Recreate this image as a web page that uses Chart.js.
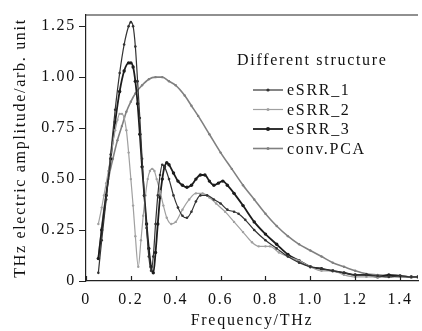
<!DOCTYPE html>
<html>
<head>
<meta charset="utf-8">
<script src="https://cdn.jsdelivr.net/npm/chart.js@4/dist/chart.umd.min.js"></script>
<style>
  html, body { margin: 0; padding: 0; background: #fff; }
  canvas { display: block; }
</style>
</head>
<body>
<canvas id="chart" width="422" height="331"></canvas>
<script>
// dati (THz, ampiezza arb.)
const seriesNames = ['eSRR_1', 'eSRR_2', 'eSRR_3', 'conv.PCA'];

const eSRR1X = [0.055,0.07,0.09,0.11,0.13,0.15,0.17,0.19,0.2,0.21,0.22,0.23,0.24,0.25,0.26,0.27,0.28,0.29,0.30,0.31,0.32,0.33,0.34,0.35,0.37,0.39,0.41,0.43,0.45,0.47,0.49,0.51,0.54,0.57,0.60,0.63,0.66,0.68,0.71,0.75,0.80,0.85,0.90,0.95,1.0,1.05,1.1,1.15,1.2,1.25,1.3,1.35,1.4,1.45,1.48];
const eSRR1Y = [0.04,0.2,0.4,0.62,0.84,1.02,1.16,1.25,1.27,1.25,1.15,0.98,0.8,0.6,0.42,0.26,0.12,0.05,0.12,0.28,0.42,0.52,0.57,0.56,0.5,0.42,0.36,0.32,0.31,0.34,0.39,0.42,0.42,0.40,0.38,0.35,0.34,0.33,0.30,0.25,0.20,0.16,0.12,0.09,0.07,0.06,0.05,0.04,0.03,0.03,0.025,0.02,0.025,0.02,0.02];

const eSRR2X = [0.055,0.07,0.08,0.09,0.1,0.11,0.12,0.13,0.14,0.15,0.16,0.17,0.18,0.19,0.2,0.21,0.22,0.233,0.245,0.255,0.265,0.275,0.285,0.295,0.305,0.315,0.33,0.345,0.36,0.38,0.40,0.43,0.46,0.49,0.52,0.55,0.58,0.62,0.66,0.70,0.74,0.77,0.80,0.82,0.86,0.90,0.95,1.0,1.05,1.1,1.15,1.2,1.25,1.3,1.35,1.4,1.45,1.48];
const eSRR2Y = [0.28,0.36,0.42,0.48,0.54,0.61,0.68,0.74,0.79,0.82,0.82,0.80,0.74,0.63,0.5,0.37,0.22,0.07,0.2,0.32,0.42,0.5,0.54,0.55,0.54,0.5,0.44,0.37,0.31,0.28,0.29,0.35,0.40,0.43,0.43,0.41,0.38,0.34,0.29,0.24,0.19,0.17,0.17,0.17,0.14,0.12,0.1,0.07,0.05,0.05,0.03,0.02,0.02,0.02,0.02,0.02,0.02,0.02];

const eSRR3X = [0.055,0.07,0.09,0.11,0.13,0.15,0.17,0.19,0.2,0.21,0.22,0.23,0.24,0.25,0.26,0.27,0.28,0.29,0.30,0.31,0.32,0.33,0.34,0.35,0.36,0.37,0.39,0.41,0.43,0.45,0.47,0.49,0.51,0.53,0.55,0.57,0.59,0.61,0.63,0.66,0.70,0.75,0.80,0.85,0.90,0.95,1.0,1.05,1.1,1.15,1.2,1.25,1.3,1.35,1.4,1.45,1.48];
const eSRR3Y = [0.11,0.25,0.42,0.6,0.78,0.93,1.03,1.07,1.07,1.05,0.98,0.87,0.72,0.56,0.42,0.28,0.16,0.07,0.04,0.14,0.28,0.41,0.5,0.56,0.58,0.57,0.53,0.49,0.47,0.46,0.47,0.5,0.52,0.52,0.49,0.47,0.48,0.49,0.47,0.43,0.37,0.29,0.23,0.18,0.13,0.1,0.07,0.06,0.05,0.04,0.03,0.03,0.02,0.03,0.025,0.02,0.02];

const pcaX = [0.055,0.07,0.08,0.1,0.12,0.14,0.16,0.18,0.2,0.22,0.25,0.28,0.31,0.34,0.37,0.40,0.44,0.47,0.5,0.55,0.6,0.65,0.7,0.75,0.8,0.85,0.9,0.95,1.0,1.05,1.1,1.15,1.2,1.25,1.3,1.35,1.4,1.45,1.48];
const pcaY = [0.11,0.26,0.35,0.5,0.6,0.69,0.76,0.83,0.88,0.92,0.96,0.99,1.0,1.0,0.98,0.96,0.91,0.86,0.81,0.72,0.63,0.55,0.47,0.40,0.33,0.27,0.22,0.18,0.15,0.12,0.09,0.07,0.05,0.035,0.03,0.025,0.02,0.02,0.02];

const xTicks = [0, 0.2, 0.4, 0.6, 0.8, 1.0, 1.2, 1.4];
const yTicks = [0, 0.25, 0.5, 0.75, 1.0, 1.25];

const pts = (xs, ys) => xs.map((x, i) => ({ x: x, y: ys[i] }));

const FONT = 'Liberation Serif';
const SPACING = '1.7px';

// disegna legenda, bordo superiore e tacche interne dell'asse x
const extras = {
  id: 'extras',
  afterInit(chart) { chart.ctx.letterSpacing = SPACING; },
  beforeDraw(chart) { chart.ctx.letterSpacing = SPACING; },
  afterDraw(chart) {
    const ctx = chart.ctx;
    const area = chart.chartArea;
    const xs = chart.scales.x;
    ctx.save();
    ctx.strokeStyle = '#222';
    ctx.lineWidth = 1.2;
    ctx.beginPath();
    ctx.moveTo(area.left, area.top);
    ctx.lineTo(area.right, area.top);
    xTicks.forEach(v => {
      const px = Math.round(xs.getPixelForValue(v)) + 0.5;
      ctx.moveTo(px, area.bottom);
      ctx.lineTo(px, area.bottom - 5);
    });
    ctx.stroke();

    ctx.letterSpacing = SPACING;
    ctx.fillStyle = '#111';
    ctx.font = '16px "' + FONT + '"';
    ctx.textBaseline = 'middle';
    ctx.fillText('Different structure', 237, 61);
    chart.data.datasets.forEach((ds, i) => {
      const y = 90 + i * 19.5;
      ctx.strokeStyle = ds.borderColor;
      ctx.lineWidth = ds.borderWidth;
      ctx.beginPath();
      ctx.moveTo(253, y);
      ctx.lineTo(283, y);
      ctx.stroke();
      ctx.fillStyle = ds.borderColor;
      ctx.beginPath();
      ctx.arc(268, y, ds.pointRadius + 0.3, 0, Math.PI * 2);
      ctx.fill();
      ctx.fillStyle = '#111';
      ctx.fillText(ds.label, 287, y + 1);
    });
    ctx.restore();
  }
};

const mkSet = (label, data, color, width, radius) => ({
  label: label,
  data: data,
  borderColor: color,
  backgroundColor: color,
  borderWidth: width,
  pointRadius: radius,
  pointBorderWidth: 0,
  cubicInterpolationMode: 'monotone',
  fill: false
});

new Chart(document.getElementById('chart'), {
  type: 'line',
  data: {
    datasets: [
      mkSet(seriesNames[0], pts(eSRR1X, eSRR1Y), '#333333', 1.2, 1.3),
      mkSet(seriesNames[1], pts(eSRR2X, eSRR2Y), '#a0a0a0', 1.2, 1.2),
      mkSet(seriesNames[2], pts(eSRR3X, eSRR3Y), '#1c1c1c', 1.8, 1.7),
      mkSet(seriesNames[3], pts(pcaX, pcaY), '#808080', 1.6, 1.2)
    ]
  },
  options: {
    responsive: false,
    animation: false,
    devicePixelRatio: 1,
    layout: { padding: { top: 15, right: 0, left: 0, bottom: 0 } },
    plugins: {
      legend: { display: false },
      tooltip: { enabled: false }
    },
    scales: {
      x: {
        type: 'linear',
        min: 0,
        max: 1.48,
        afterFit: s => { s.height = 50; },
        afterBuildTicks: s => { s.ticks = xTicks.map(v => ({ value: v })); },
        grid: { display: false, drawTicks: false },
        border: { display: true, color: '#222', width: 1.2 },
        ticks: {
          padding: 9,
          color: '#111',
          font: { family: FONT, size: 16 },
          maxRotation: 0,
          callback: v => v === 0 ? '0' : v.toFixed(1)
        },
        title: {
          display: true,
          text: 'Frequency/THz',
          color: '#111',
          font: { family: FONT, size: 16 },
          padding: { top: 0, bottom: 1 }
        }
      },
      y: {
        min: 0,
        max: 1.305,
        afterFit: s => { s.width = 86; },
        afterBuildTicks: s => { s.ticks = yTicks.map(v => ({ value: v })); },
        grid: { drawOnChartArea: false, drawTicks: true, tickLength: 7, color: '#222' },
        border: { display: true, color: '#222', width: 1.2 },
        ticks: {
          padding: 3,
          color: '#111',
          font: { family: FONT, size: 16 },
          callback: v => v === 0 ? '0' : v.toFixed(2)
        },
        title: {
          display: true,
          text: 'THz electric amplitude/arb. unit',
          color: '#111',
          font: { family: FONT, size: 16 },
          padding: { top: 11, bottom: 0 }
        }
      }
    }
  },
  plugins: [extras]
});
</script>
</body>
</html>
